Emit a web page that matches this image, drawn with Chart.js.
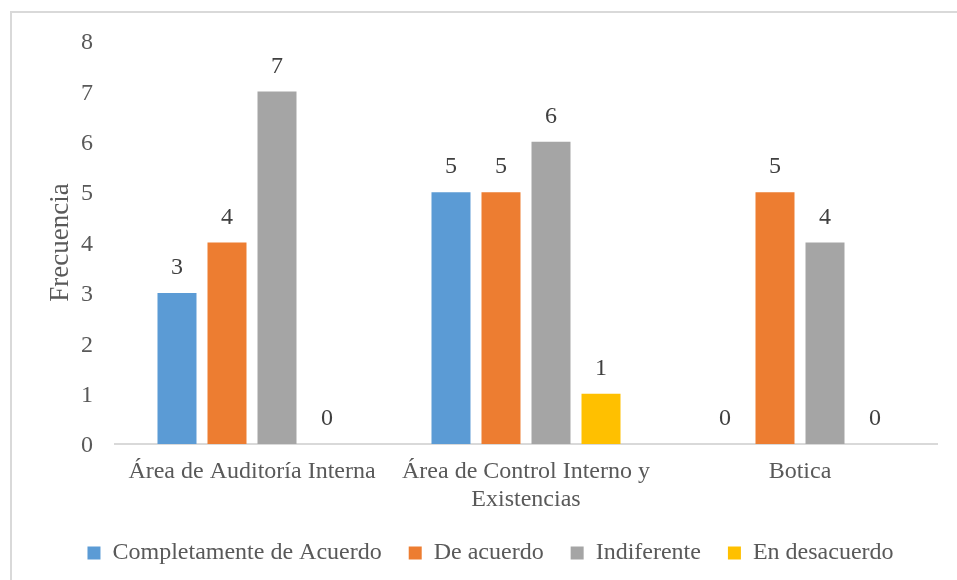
<!DOCTYPE html>
<html>
<head>
<meta charset="utf-8">
<title>Frecuencia por área</title>
<script src="https://cdn.jsdelivr.net/npm/chart.js@4.4.1/dist/chart.umd.min.js"></script>
<style>
  html, body { margin: 0; padding: 0; background: #fff; }
  #wrap { position: relative; width: 957px; height: 580px; overflow: hidden; }
  #frame {
    position: absolute; left: 10px; top: 11px; right: -10px; bottom: -10px;
    border-left: 2px solid #d9d9d9; border-top: 2px solid #d9d9d9;
  }
  #chart { position: absolute; left: 0; top: 0; }
</style>
</head>
<body>
<div id="wrap">
  <div id="frame"></div>
  <canvas id="chart" width="957" height="580"></canvas>
</div>
<script>
// Categories and answer counts
const categories = [
  "Área de Auditoría Interna",
  ["Área de Control Interno y", "Existencias"],
  "Botica"
];
const completamente = [3, 5, 0];
const deAcuerdo = [4, 5, 5];
const indiferente = [7, 6, 4];
const enDesacuerdo = [0, 1, 0];
const yTicks = [0, 1, 2, 3, 4, 5, 6, 7, 8];

const serif = "'Liberation Serif', 'Times New Roman', serif";
const textGray = "#595959";

// value labels above each bar (zeros included)
const valueLabels = {
  id: "valueLabels",
  afterDatasetsDraw(chart) {
    const ctx = chart.ctx;
    ctx.save();
    ctx.font = "24px " + serif;
    ctx.fillStyle = "#404040";
    ctx.textAlign = "center";
    ctx.textBaseline = "middle";
    chart.data.datasets.forEach((ds, i) => {
      chart.getDatasetMeta(i).data.forEach((bar, j) => {
        ctx.fillText(String(ds.data[j]), bar.x, bar.y - 25);
      });
    });
    ctx.restore();
  }
};

// nudge the legend row a bit to the right
const legendShift = {
  id: "legendShift",
  afterLayout(chart) {
    if (!chart.legend) return;
    chart.legend.left += 17;
    chart.legend.right += 17;
  }
};

new Chart(document.getElementById("chart"), {
  type: "bar",
  data: {
    labels: categories,
    datasets: [
      { label: "Completamente de Acuerdo", data: completamente, backgroundColor: "#5b9bd5" },
      { label: "De acuerdo", data: deAcuerdo, backgroundColor: "#ed7d31" },
      { label: "Indiferente", data: indiferente, backgroundColor: "#a5a5a5" },
      { label: "En desacuerdo", data: enDesacuerdo, backgroundColor: "#ffc000" }
    ]
  },
  options: {
    responsive: false,
    animation: false,
    layout: { padding: { top: 41, right: 20, bottom: 5, left: 10 } },
    datasets: { bar: { categoryPercentage: 0.73, barPercentage: 0.78 } },
    plugins: {
      tooltip: { enabled: false },
      legend: {
        position: "bottom",
        labels: {
          font: { family: serif, size: 24 },
          color: textGray,
          boxWidth: 13,
          boxHeight: 13,
          padding: 27
        }
      }
    },
    scales: {
      x: {
        grid: { display: false },
        border: { display: true, color: "#d9d9d9", width: 2 },
        ticks: {
          font: { family: serif, size: 24, lineHeight: 1.17 },
          color: textGray,
          padding: 6,
          maxRotation: 0,
          autoSkip: false
        },
        afterFit(scale) { scale.height = 70; }
      },
      y: {
        min: 0,
        max: 8,
        grid: { display: false },
        border: { display: false },
        afterBuildTicks(scale) { scale.ticks = yTicks.map(v => ({ value: v })); },
        ticks: {
          font: { family: serif, size: 24 },
          color: textGray,
          padding: 14,
          labelOffset: 2
        },
        title: {
          display: true,
          text: "Frecuencia",
          font: { family: serif, size: 27 },
          color: textGray,
          padding: { top: 35, bottom: 0 }
        },
        afterFit(scale) { scale.width = 105; }
      }
    }
  },
  plugins: [valueLabels, legendShift]
});
</script>
</body>
</html>
